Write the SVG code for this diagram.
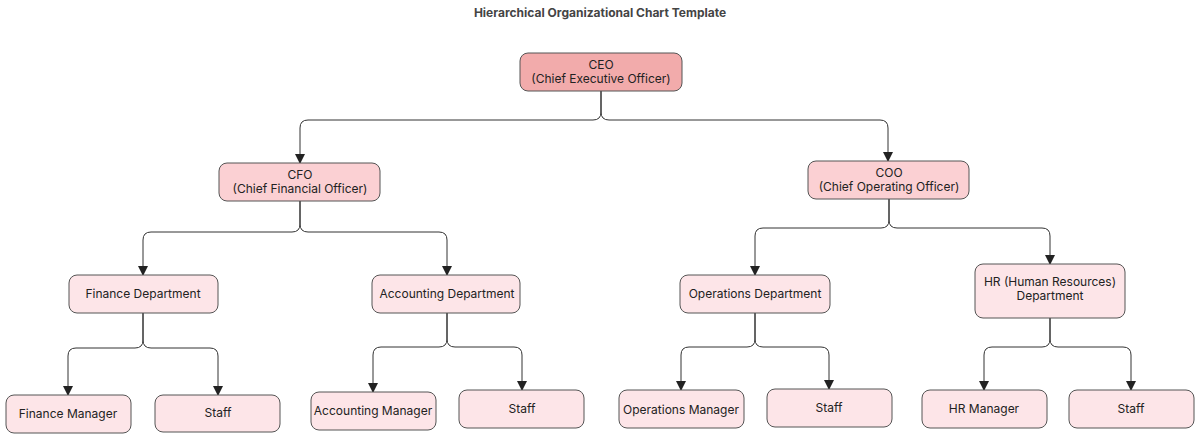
<svg xmlns="http://www.w3.org/2000/svg" width="1200" height="439" viewBox="0 0 1200 439">
<style>
.n rect{stroke:#555;stroke-width:1}
.l1 rect{fill:#f2abab}.l2 rect{fill:#fbd0d3}.l3 rect{fill:#fde5e8}
text{font-family:Inter,"Liberation Sans",sans-serif;font-size:12px;fill:#222;text-anchor:middle}
.c path{fill:none;stroke:#333;stroke-width:1;marker-end:url(#a)}
</style>
<defs><marker id="a" markerWidth="10" markerHeight="10" refX="9" refY="5" orient="auto" markerUnits="userSpaceOnUse"><path d="M0,0L10,5L0,10z" fill="#222"/></marker></defs>
<rect width="1200" height="439" fill="#fff"/>
<text x="600" y="17" style="font-weight:bold;fill:#444">Hierarchical Organizational Chart Template</text>
<g class="c">
<path d="M601,91V112Q601,120 593,120H308Q300,120 300,128V163"/>
<path d="M601,91V112Q601,120 609,120H880Q888,120 888,128V161"/>
<path d="M300,201V224Q300,232 292,232H151Q143,232 143,240V275"/>
<path d="M300,201V224Q300,232 308,232H439Q447,232 447,240V275"/>
<path d="M889,199V220Q889,228 881,228H763Q755,228 755,236V275"/>
<path d="M889,199V220Q889,228 897,228H1042Q1050,228 1050,236V264"/>
<path d="M143,313V340Q143,348 135,348H76Q68,348 68,356V395"/>
<path d="M143,313V340Q143,348 151,348H210Q218,348 218,356V395"/>
<path d="M447,313V339Q447,347 439,347H381Q373,347 373,355V392"/>
<path d="M447,313V339Q447,347 455,347H514Q522,347 522,355V390"/>
<path d="M755,313V339Q755,347 747,347H689Q681,347 681,355V390"/>
<path d="M755,313V339Q755,347 763,347H821Q829,347 829,355V389"/>
<path d="M1050,318V339Q1050,347 1042,347H992Q984,347 984,355V390"/>
<path d="M1050,318V339Q1050,347 1058,347H1123Q1131,347 1131,355V390"/>
</g>
<g id="ceo" class="n l1"><rect x="520" y="53" width="162" height="38" rx="8"/><text x="601" y="69">CEO</text><text x="601" y="83">(Chief Executive Officer)</text></g>
<g id="cfo" class="n l2"><rect x="219" y="163" width="161" height="38" rx="8"/><text x="300" y="179">CFO</text><text x="300" y="193">(Chief Financial Officer)</text></g>
<g id="coo" class="n l2"><rect x="808" y="161" width="161" height="38" rx="8"/><text x="889" y="177">COO</text><text x="889" y="191">(Chief Operating Officer)</text></g>
<g id="fin" class="n l3"><rect x="69" y="275" width="149" height="38" rx="8"/><text x="143" y="298">Finance Department</text></g>
<g id="acc" class="n l3"><rect x="372" y="275" width="148" height="38" rx="8"/><text x="447" y="298">Accounting Department</text></g>
<g id="ops" class="n l3"><rect x="680" y="275" width="150" height="38" rx="8"/><text x="755" y="298">Operations Department</text></g>
<g id="hr" class="n l3"><rect x="975" y="264" width="150" height="54" rx="8"/><text x="1050" y="286">HR (Human Resources)</text><text x="1050" y="300">Department</text></g>
<g id="finm" class="n l3"><rect x="6" y="395" width="125" height="38" rx="8"/><text x="68" y="418">Finance Manager</text></g>
<g id="s1" class="n l3"><rect x="155" y="395" width="125" height="37" rx="8"/><text x="218" y="417">Staff</text></g>
<g id="accm" class="n l3"><rect x="311" y="392" width="125" height="38" rx="8"/><text x="373" y="415">Accounting Manager</text></g>
<g id="s2" class="n l3"><rect x="459" y="390" width="125" height="38" rx="8"/><text x="522" y="413">Staff</text></g>
<g id="opsm" class="n l3"><rect x="619" y="390" width="125" height="38" rx="8"/><text x="681" y="414">Operations Manager</text></g>
<g id="s3" class="n l3"><rect x="767" y="389" width="125" height="38" rx="8"/><text x="829" y="412">Staff</text></g>
<g id="hrm" class="n l3"><rect x="922" y="390" width="125" height="38" rx="8"/><text x="984" y="413">HR Manager</text></g>
<g id="s4" class="n l3"><rect x="1069" y="390" width="125" height="38" rx="8"/><text x="1131" y="413">Staff</text></g>
</svg>
